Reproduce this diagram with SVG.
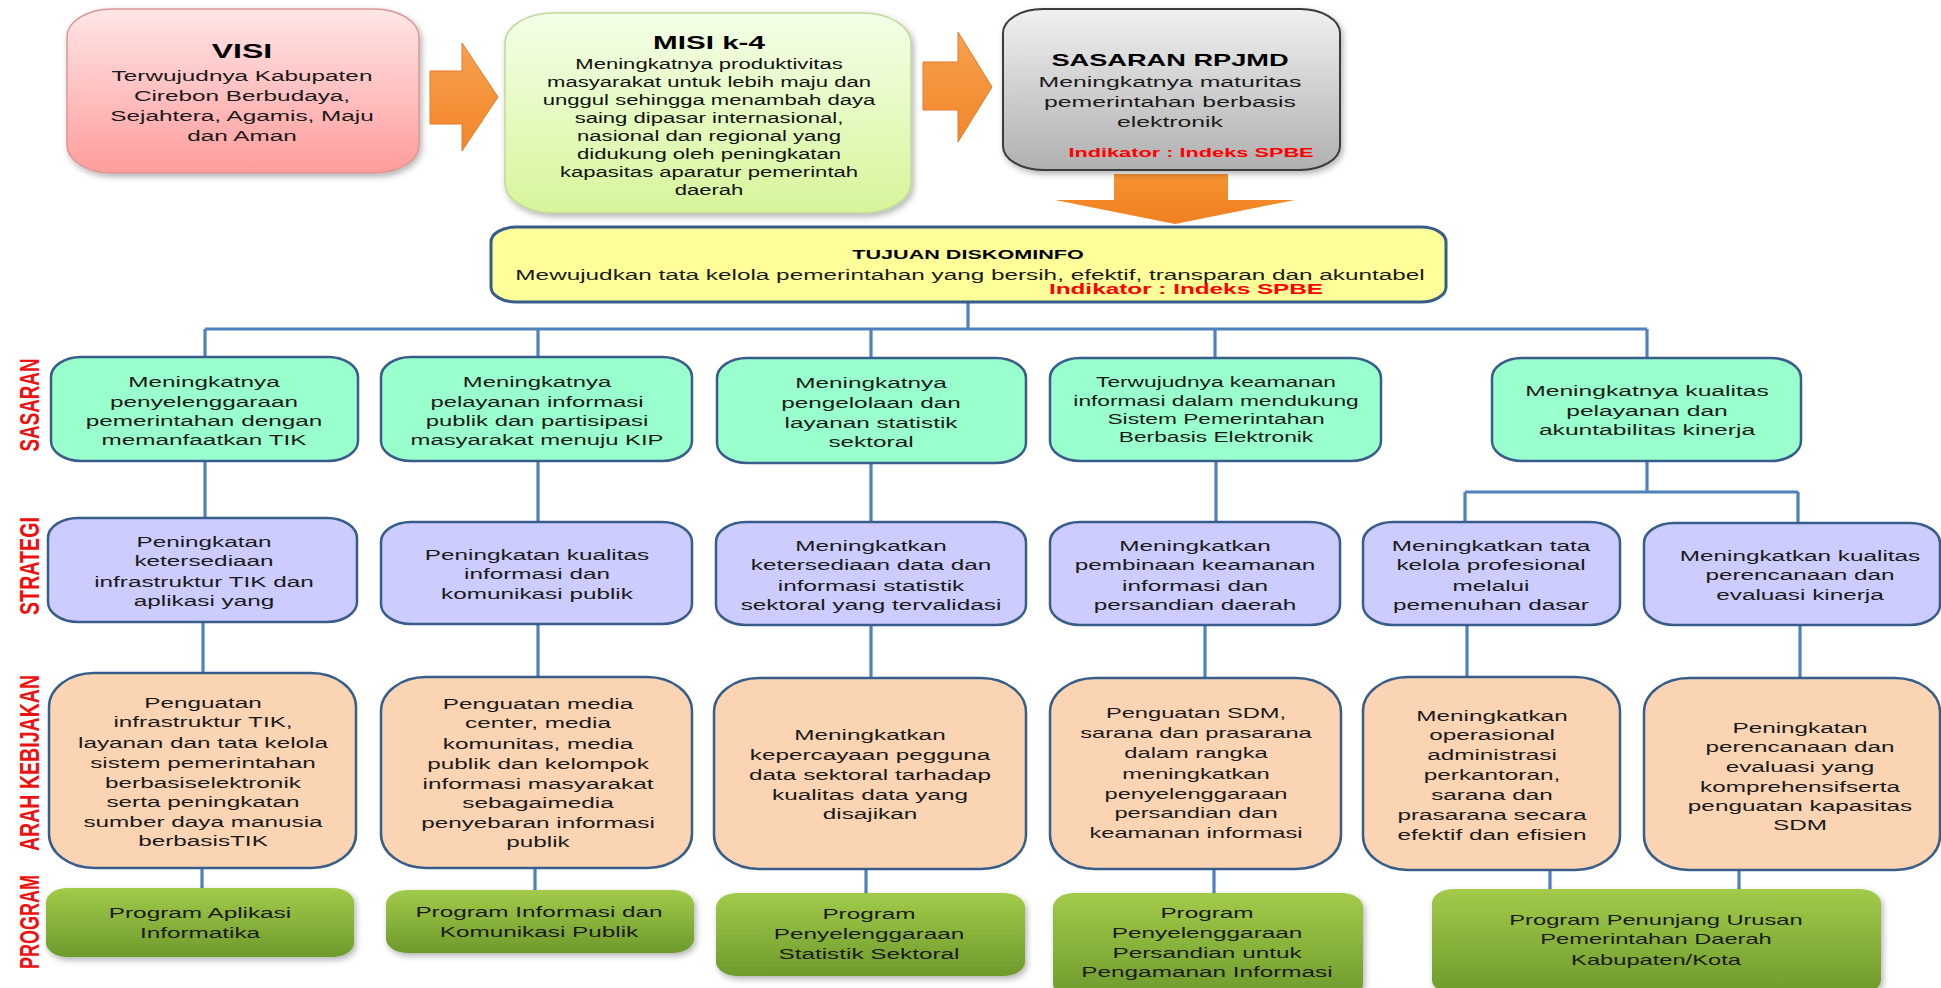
<svg xmlns="http://www.w3.org/2000/svg" width="1941" height="988" viewBox="0 0 1941 988">
<defs>
<linearGradient id="gV" x1="0" y1="0" x2="0" y2="1"><stop offset="0" stop-color="#FFE6E6"/><stop offset="1" stop-color="#FF9C9C"/></linearGradient>
<linearGradient id="gM" x1="0" y1="0" x2="0" y2="1"><stop offset="0" stop-color="#F4FFE8"/><stop offset="1" stop-color="#D6F59A"/></linearGradient>
<linearGradient id="gR" x1="0" y1="0" x2="0" y2="1"><stop offset="0" stop-color="#F0F0F0"/><stop offset="1" stop-color="#B0B0B0"/></linearGradient>
<linearGradient id="gP" x1="0" y1="0" x2="0" y2="1"><stop offset="0" stop-color="#A2CB4A"/><stop offset="1" stop-color="#6E9A2C"/></linearGradient>
<linearGradient id="gO" x1="0" y1="0" x2="0" y2="1"><stop offset="0" stop-color="#F7A04E"/><stop offset="1" stop-color="#F3862A"/></linearGradient>
<linearGradient id="gD" x1="0" y1="0" x2="0" y2="1"><stop offset="0" stop-color="#F59230"/><stop offset="1" stop-color="#F08020"/></linearGradient>
<filter id="sh" x="-10%" y="-10%" width="125%" height="130%"><feDropShadow dx="2" dy="3" stdDeviation="3" flood-color="#000" flood-opacity="0.3"/></filter>
<style>
.c{fill:none;stroke:#4F81BD;stroke-width:3.2}
.bs{fill:#99FFCC;stroke:#385D8A;stroke-width:2.5}
.bst{fill:#CCCCFF;stroke:#385D8A;stroke-width:2.5}
.ba{fill:#FBD4B4;stroke:#385D8A;stroke-width:2.5}
.bp{fill:url(#gP);filter:url(#sh)}
.t{font-family:"Liberation Sans",Arial,sans-serif;font-size:15.2px;fill:#1a1a1a;text-anchor:middle}
.s14{font-size:14px}
.b{font-weight:bold;fill:#000}
.red{font-weight:bold;fill:#FF0000}
.lbl{font-family:"Liberation Sans",Arial,sans-serif;font-weight:bold;font-size:27px;fill:#EE1111;text-anchor:middle}
.arr{fill:url(#gO);stroke:#E6792A;stroke-width:1}
</style>
</defs>
<rect width="1941" height="988" fill="#FFFFFF"/>

<g id="labels">
<text class="lbl" transform="translate(39,405) rotate(-90)" textLength="93" lengthAdjust="spacingAndGlyphs">SASARAN</text>
<text class="lbl" transform="translate(39,566) rotate(-90)" textLength="98" lengthAdjust="spacingAndGlyphs">STRATEGI</text>
<text class="lbl" transform="translate(39,763) rotate(-90)" textLength="176" lengthAdjust="spacingAndGlyphs">ARAH KEBIJAKAN</text>
<text class="lbl" transform="translate(39,922) rotate(-90)" textLength="94" lengthAdjust="spacingAndGlyphs">PROGRAM</text>
</g>

<g id="connectors">
<path class="c" d="M968 301V329M205 329H1647M205 329V357M538 329V357M871 329V358M1215 329V358M1647 329V358"/>
<path class="c" d="M205 461V518M538 461V522M871 463V522M1216 461V522M1647 461V492M1465 492H1798M1465 492V523M1798 492V523"/>
<path class="c" d="M203 622V673M538 624V677M871 625V678M1205 625V678M1467 625V677M1800 625V678"/>
<path class="c" d="M202 868V889M535 868V891M866 869V893M1214 869V893M1550 870V889M1739 870V889"/>
</g>

<g id="arrows">
<path class="arr" d="M430 71H462V43L498 97L462 151V124H430Z"/>
<path class="arr" d="M923 62H958V32L992 87L958 142V110H923Z"/>
<path fill="url(#gD)" d="M1114 174H1228V200H1295L1175 224L1055 200H1114Z"/>
</g>

<g id="visi">
<rect x="67" y="9" width="352" height="164" rx="45" ry="28" fill="url(#gV)" stroke="#D99694" stroke-width="1.5" filter="url(#sh)"/>
<text class="t" transform="matrix(1.6 0 0 1 242 0)"><tspan class="b" x="0" y="58" font-size="20">VISI</tspan><tspan x="0" y="81">Terwujudnya Kabupaten</tspan><tspan x="0" y="101">Cirebon Berbudaya,</tspan><tspan x="0" y="121">Sejahtera, Agamis, Maju</tspan><tspan x="0" y="141">dan Aman</tspan></text>
</g>

<g id="misi">
<rect x="505" y="13" width="406" height="200" rx="48" ry="30" fill="url(#gM)" stroke="#C3D69B" stroke-width="1.5" filter="url(#sh)"/>
<text class="t s14" transform="matrix(1.6 0 0 1 709 0)" style="font-size:13.8px;fill:#111"><tspan class="b" x="0" y="49" font-size="18.5">MISI k-4</tspan><tspan x="0" y="69">Meningkatnya produktivitas</tspan><tspan x="0" y="87">masyarakat untuk lebih maju dan</tspan><tspan x="0" y="105">unggul sehingga menambah daya</tspan><tspan x="0" y="123">saing dipasar internasional,</tspan><tspan x="0" y="141">nasional dan regional yang</tspan><tspan x="0" y="159.5">didukung oleh peningkatan</tspan><tspan x="0" y="177.5">kapasitas aparatur pemerintah</tspan><tspan x="0" y="195.5">daerah</tspan></text>
</g>

<g id="rpjmd">
<rect x="1003" y="9" width="337" height="161" rx="40" ry="24" fill="url(#gR)" stroke="#3A3A3A" stroke-width="2" filter="url(#sh)"/>
<text class="t" transform="matrix(1.6 0 0 1 1170 0)" style="font-size:15.5px"><tspan class="b" x="0" y="66" font-size="17">SASARAN RPJMD</tspan><tspan x="0" y="87">Meningkatnya maturitas</tspan><tspan x="0" y="107">pemerintahan berbasis</tspan><tspan x="0" y="127">elektronik</tspan></text>
<text class="t red" transform="matrix(1.6 0 0 1 1191 0)" style="font-size:13.6px"><tspan x="0" y="157">Indikator : Indeks SPBE</tspan></text>
</g>

<g id="tujuan">
<rect x="491" y="227" width="955" height="75" rx="25" ry="15" fill="#FFFF99" stroke="#385D8A" stroke-width="3"/>
<text class="t" transform="matrix(1.6 0 0 1 968 0)"><tspan class="b" x="0" y="259" font-size="13.5">TUJUAN DISKOMINFO</tspan></text>
<text class="t" transform="matrix(1.6 0 0 1 970 0)"><tspan x="0" y="280">Mewujudkan tata kelola pemerintahan yang bersih, efektif, transparan dan akuntabel</tspan></text>
<text class="t red" transform="matrix(1.6 0 0 1 1186 0)"><tspan x="0" y="294">Indikator : Indeks SPBE</tspan></text>
</g>

<g id="sasaran1">
<rect class="bs" x="51" y="357" width="307" height="104" rx="30" ry="20"/>
<text class="t" transform="matrix(1.6 0 0 1 204 0)"><tspan x="0" y="387">Meningkatnya</tspan><tspan x="0" y="407">penyelenggaraan</tspan><tspan x="0" y="426.5">pemerintahan dengan</tspan><tspan x="0" y="445">memanfaatkan TIK</tspan></text>
</g>
<g id="sasaran2">
<rect class="bs" x="381" y="357" width="311" height="104" rx="30" ry="20"/>
<text class="t" transform="matrix(1.6 0 0 1 537 0)" style="font-size:14.9px"><tspan x="0" y="387">Meningkatnya</tspan><tspan x="0" y="407">pelayanan informasi</tspan><tspan x="0" y="426.5">publik dan partisipasi</tspan><tspan x="0" y="445">masyarakat menuju KIP</tspan></text>
</g>
<g id="sasaran3">
<rect class="bs" x="717" y="358" width="309" height="105" rx="30" ry="20"/>
<text class="t" transform="matrix(1.6 0 0 1 871 0)"><tspan x="0" y="388">Meningkatnya</tspan><tspan x="0" y="408">pengelolaan dan</tspan><tspan x="0" y="428">layanan statistik</tspan><tspan x="0" y="447.5">sektoral</tspan></text>
</g>
<g id="sasaran4">
<rect class="bs" x="1050" y="358" width="331" height="103" rx="30" ry="20"/>
<text class="t" transform="matrix(1.6 0 0 1 1216 0)" style="font-size:14.2px"><tspan x="0" y="387.5">Terwujudnya keamanan</tspan><tspan x="0" y="406">informasi dalam mendukung</tspan><tspan x="0" y="424.5">Sistem Pemerintahan</tspan><tspan x="0" y="442">Berbasis Elektronik</tspan></text>
</g>
<g id="sasaran5">
<rect class="bs" x="1492" y="358" width="309" height="103" rx="30" ry="20"/>
<text class="t" transform="matrix(1.6 0 0 1 1647 0)" style="font-size:15.4px"><tspan x="0" y="396">Meningkatnya kualitas</tspan><tspan x="0" y="416">pelayanan dan</tspan><tspan x="0" y="435">akuntabilitas kinerja</tspan></text>
</g>

<g id="strategi1">
<rect class="bst" x="48" y="518" width="309" height="104" rx="30" ry="20"/>
<text class="t" transform="matrix(1.6 0 0 1 204 0)"><tspan x="0" y="547">Peningkatan</tspan><tspan x="0" y="566">ketersediaan</tspan><tspan x="0" y="587">infrastruktur TIK dan</tspan><tspan x="0" y="606">aplikasi yang</tspan></text>
</g>
<g id="strategi2">
<rect class="bst" x="381" y="522" width="311" height="102" rx="30" ry="20"/>
<text class="t" transform="matrix(1.6 0 0 1 537 0)"><tspan x="0" y="560">Peningkatan kualitas</tspan><tspan x="0" y="579.5">informasi dan</tspan><tspan x="0" y="599">komunikasi publik</tspan></text>
</g>
<g id="strategi3">
<rect class="bst" x="716" y="522" width="310" height="103" rx="30" ry="20"/>
<text class="t" transform="matrix(1.6 0 0 1 871 0)"><tspan x="0" y="551">Meningkatkan</tspan><tspan x="0" y="570">ketersediaan data dan</tspan><tspan x="0" y="591">informasi statistik</tspan><tspan x="0" y="610">sektoral yang tervalidasi</tspan></text>
</g>
<g id="strategi4">
<rect class="bst" x="1050" y="522" width="290" height="103" rx="30" ry="20"/>
<text class="t" transform="matrix(1.6 0 0 1 1195 0)"><tspan x="0" y="551">Meningkatkan</tspan><tspan x="0" y="570">pembinaan keamanan</tspan><tspan x="0" y="591">informasi dan</tspan><tspan x="0" y="610">persandian daerah</tspan></text>
</g>
<g id="strategi5">
<rect class="bst" x="1363" y="522" width="257" height="103" rx="30" ry="20"/>
<text class="t" transform="matrix(1.6 0 0 1 1491 0)"><tspan x="0" y="551">Meningkatkan tata</tspan><tspan x="0" y="570">kelola profesional</tspan><tspan x="0" y="591">melalui</tspan><tspan x="0" y="610">pemenuhan dasar</tspan></text>
</g>
<g id="strategi6">
<rect class="bst" x="1644" y="523" width="296" height="102" rx="30" ry="20"/>
<text class="t" transform="matrix(1.6 0 0 1 1800 0)"><tspan x="0" y="561">Meningkatkan kualitas</tspan><tspan x="0" y="580">perencanaan dan</tspan><tspan x="0" y="600">evaluasi kinerja</tspan></text>
</g>

<g id="arah1">
<rect class="ba" x="49" y="673" width="307" height="195" rx="45" ry="34"/>
<text class="t" transform="matrix(1.6 0 0 1 203 0)"><tspan x="0" y="708">Penguatan</tspan><tspan x="0" y="727.5">infrastruktur TIK,</tspan><tspan x="0" y="748">layanan dan tata kelola</tspan><tspan x="0" y="768">sistem pemerintahan</tspan><tspan x="0" y="788">berbasiselektronik</tspan><tspan x="0" y="807">serta peningkatan</tspan><tspan x="0" y="827">sumber daya manusia</tspan><tspan x="0" y="846">berbasisTIK</tspan></text>
</g>
<g id="arah2">
<rect class="ba" x="381" y="677" width="311" height="191" rx="45" ry="34"/>
<text class="t" transform="matrix(1.6 0 0 1 538 0)"><tspan x="0" y="709">Penguatan media</tspan><tspan x="0" y="728">center, media</tspan><tspan x="0" y="749">komunitas, media</tspan><tspan x="0" y="769">publik dan kelompok</tspan><tspan x="0" y="789">informasi masyarakat</tspan><tspan x="0" y="808">sebagaimedia</tspan><tspan x="0" y="828">penyebaran informasi</tspan><tspan x="0" y="847">publik</tspan></text>
</g>
<g id="arah3">
<rect class="ba" x="714" y="678" width="312" height="191" rx="45" ry="34"/>
<text class="t" transform="matrix(1.6 0 0 1 870 0)"><tspan x="0" y="740">Meningkatkan</tspan><tspan x="0" y="760">kepercayaan pegguna</tspan><tspan x="0" y="780">data sektoral tarhadap</tspan><tspan x="0" y="800">kualitas data yang</tspan><tspan x="0" y="819">disajikan</tspan></text>
</g>
<g id="arah4">
<rect class="ba" x="1050" y="678" width="291" height="191" rx="45" ry="34"/>
<text class="t" transform="matrix(1.6 0 0 1 1196 0)" style="font-size:14.8px"><tspan x="0" y="718">Penguatan SDM,</tspan><tspan x="0" y="738">sarana dan prasarana</tspan><tspan x="0" y="758">dalam rangka</tspan><tspan x="0" y="779">meningkatkan</tspan><tspan x="0" y="799">penyelenggaraan</tspan><tspan x="0" y="818">persandian dan</tspan><tspan x="0" y="838">keamanan informasi</tspan></text>
</g>
<g id="arah5">
<rect class="ba" x="1363" y="677" width="257" height="193" rx="45" ry="34"/>
<text class="t" transform="matrix(1.6 0 0 1 1492 0)"><tspan x="0" y="721">Meningkatkan</tspan><tspan x="0" y="740.5">operasional</tspan><tspan x="0" y="760">administrasi</tspan><tspan x="0" y="780">perkantoran,</tspan><tspan x="0" y="800">sarana dan</tspan><tspan x="0" y="820">prasarana secara</tspan><tspan x="0" y="840">efektif dan efisien</tspan></text>
</g>
<g id="arah6">
<rect class="ba" x="1644" y="678" width="296" height="192" rx="45" ry="34"/>
<text class="t" transform="matrix(1.6 0 0 1 1800 0)"><tspan x="0" y="733">Peningkatan</tspan><tspan x="0" y="752">perencanaan dan</tspan><tspan x="0" y="772">evaluasi yang</tspan><tspan x="0" y="792">komprehensifserta</tspan><tspan x="0" y="811">penguatan kapasitas</tspan><tspan x="0" y="830">SDM</tspan></text>
</g>

<g id="program1">
<rect class="bp" x="46" y="888" width="308" height="69" rx="22" ry="14"/>
<text class="t" transform="matrix(1.6 0 0 1 200 0)"><tspan x="0" y="918">Program Aplikasi</tspan><tspan x="0" y="938">Informatika</tspan></text>
</g>
<g id="program2">
<rect class="bp" x="386" y="890" width="308" height="63" rx="22" ry="14"/>
<text class="t" transform="matrix(1.6 0 0 1 539 0)"><tspan x="0" y="917">Program Informasi dan</tspan><tspan x="0" y="937">Komunikasi Publik</tspan></text>
</g>
<g id="program3">
<rect class="bp" x="716" y="893" width="309" height="83" rx="22" ry="14"/>
<text class="t" transform="matrix(1.6 0 0 1 869 0)"><tspan x="0" y="919">Program</tspan><tspan x="0" y="939">Penyelenggaraan</tspan><tspan x="0" y="959">Statistik Sektoral</tspan></text>
</g>
<g id="program4">
<rect class="bp" x="1053" y="893" width="310" height="105" rx="22" ry="14"/>
<text class="t" transform="matrix(1.6 0 0 1 1207 0)"><tspan x="0" y="918">Program</tspan><tspan x="0" y="938">Penyelenggaraan</tspan><tspan x="0" y="958">Persandian untuk</tspan><tspan x="0" y="977">Pengamanan Informasi</tspan></text>
</g>
<g id="program5">
<rect class="bp" x="1432" y="889" width="449" height="105" rx="22" ry="14"/>
<text class="t" transform="matrix(1.6 0 0 1 1656 0)" style="font-size:14.8px"><tspan x="0" y="925">Program Penunjang Urusan</tspan><tspan x="0" y="944">Pemerintahan Daerah</tspan><tspan x="0" y="965">Kabupaten/Kota</tspan></text>
</g>
</svg>
